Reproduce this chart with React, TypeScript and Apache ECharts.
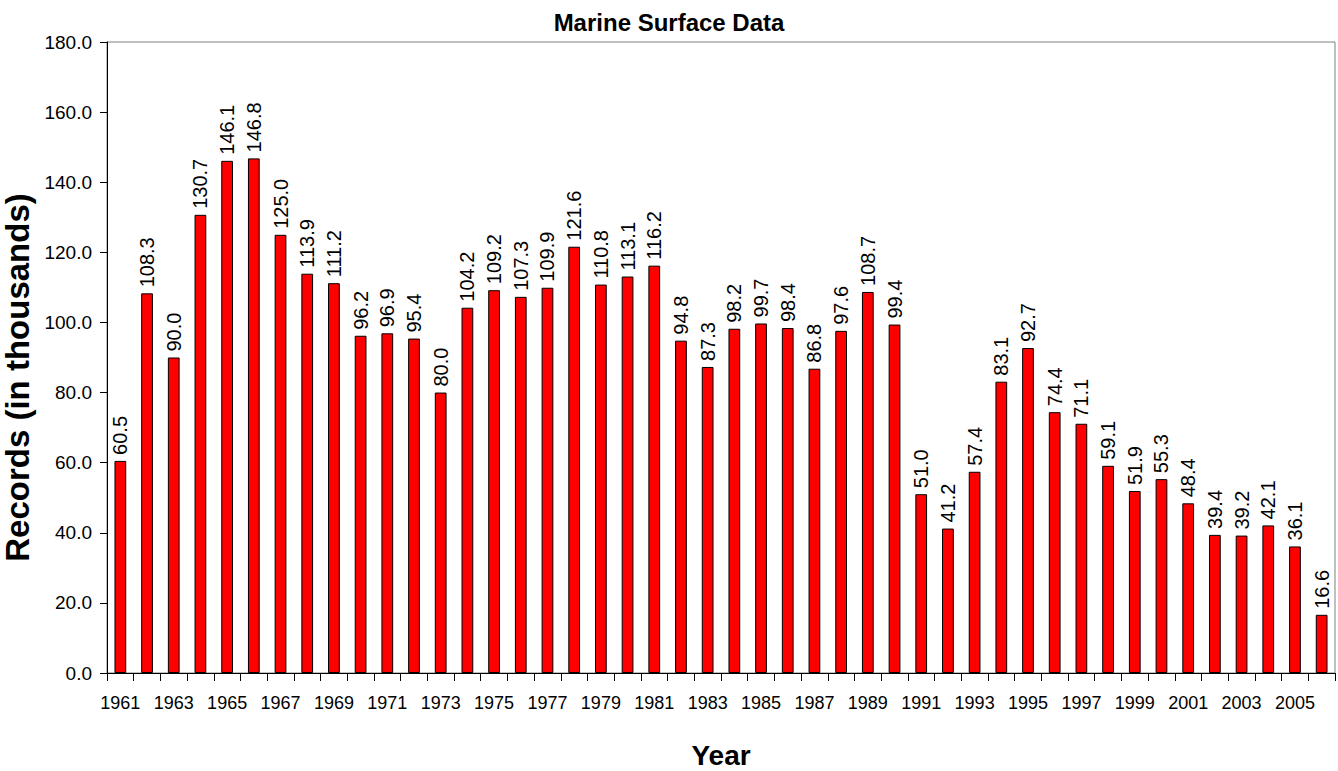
import React, { useEffect, useRef } from "react";
import * as echarts from "echarts";

const years: string[] = [
  "1961", "1962", "1963", "1964", "1965", "1966", "1967", "1968", "1969", "1970",
  "1971", "1972", "1973", "1974", "1975", "1976", "1977", "1978", "1979", "1980",
  "1981", "1982", "1983", "1984", "1985", "1986", "1987", "1988", "1989", "1990",
  "1991", "1992", "1993", "1994", "1995", "1996", "1997", "1998", "1999", "2000",
  "2001", "2002", "2003", "2004", "2005", "2006",
];

const records: number[] = [
  60.5, 108.3, 90.0, 130.7, 146.1, 146.8, 125.0, 113.9, 111.2, 96.2,
  96.9, 95.4, 80.0, 104.2, 109.2, 107.3, 109.9, 121.6, 110.8, 113.1,
  116.2, 94.8, 87.3, 98.2, 99.7, 98.4, 86.8, 97.6, 108.7, 99.4,
  51.0, 41.2, 57.4, 83.1, 92.7, 74.4, 71.1, 59.1, 51.9, 55.3,
  48.4, 39.4, 39.2, 42.1, 36.1, 16.6,
];

const title = "Marine Surface Data";
const yName = "Records (in thousands)";
const xName = "Year";

export default function App() {
  const ref = useRef<HTMLDivElement>(null);
  useEffect(() => {
    if (!ref.current) return;
    const chart = echarts.init(ref.current, null, { renderer: "svg" });
    const font = "Arial, 'Liberation Sans', sans-serif";
    chart.setOption({
      animation: false,
      backgroundColor: "#ffffff",
      textStyle: { fontFamily: font },
      title: {
        text: title,
        left: "center",
        top: 5,
        textStyle: { fontFamily: font, fontSize: 24, fontWeight: "bold", color: "#000" },
      },
      grid: {
        left: 107,
        right: 3,
        top: 42,
        bottom: 98,
        show: true,
        borderColor: "#808080",
        borderWidth: 1,
        containLabel: false,
        outerBoundsMode: "none",
      },
      xAxis: {
        type: "category",
        data: years,
        name: xName,
        nameLocation: "middle",
        nameGap: 68,
        nameTextStyle: { fontFamily: font, fontSize: 28, fontWeight: "bold", color: "#000" },
        axisLine: { lineStyle: { color: "#000", width: 1 } },
        axisTick: { show: true, interval: 0, length: 8, lineStyle: { color: "#000" } },
        axisLabel: { interval: 1, fontSize: 18, color: "#000", margin: 21, fontFamily: font },
        splitLine: { show: false },
      },
      yAxis: {
        type: "value",
        min: 0,
        max: 180,
        interval: 20,
        name: yName,
        nameLocation: "middle",
        nameGap: 60,
        nameRotate: 90,
        nameTextStyle: {
          fontFamily: font,
          fontSize: 33,
          fontWeight: "bold",
          color: "#000",
          padding: [0, 40, 0, 0],
        },
        axisLine: { show: true, lineStyle: { color: "#000", width: 1 } },
        axisTick: { show: true, length: 7, lineStyle: { color: "#000" } },
        axisLabel: {
          fontSize: 19,
          color: "#000",
          margin: 15,
          fontFamily: font,
          formatter: (v: number) => v.toFixed(1),
        },
        splitLine: { show: false },
      },
      series: [
        {
          type: "bar",
          data: records,
          barWidth: "44%",
          itemStyle: { color: "#ff0000", borderColor: "#000", borderWidth: 1 },
          label: {
            show: true,
            position: "top",
            rotate: 90,
            align: "left",
            verticalAlign: "middle",
            distance: 6,
            fontSize: 20,
            color: "#000",
            fontFamily: font,
            formatter: (p: any) => Number(p.value).toFixed(1),
          },
        },
      ],
    });
    return () => chart.dispose();
  }, []);
  return (
    <div
      ref={ref}
      style={{ position: "fixed", left: 0, top: 0, width: 1338, height: 771, background: "#fff" }}
    />
  );
}
